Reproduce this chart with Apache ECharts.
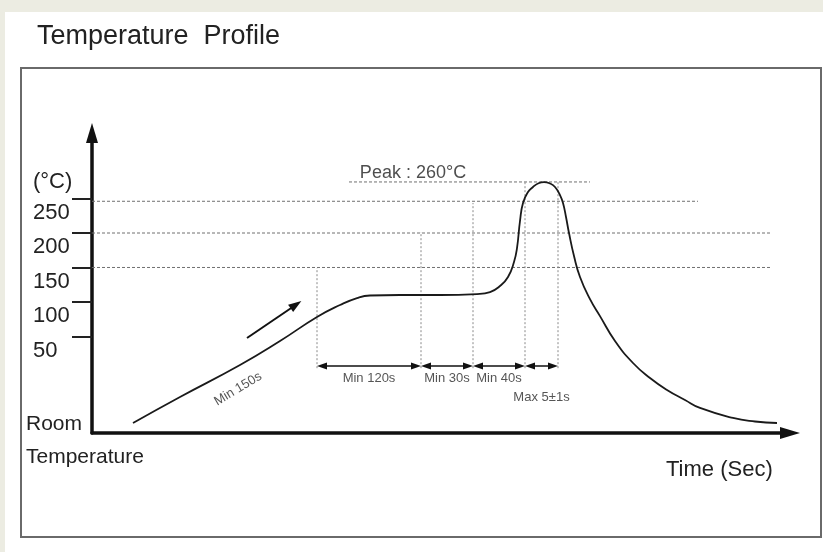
<!DOCTYPE html>
<html>
<head>
<meta charset="utf-8">
<script src="https://cdn.jsdelivr.net/npm/echarts@6/dist/echarts.min.js"></script>
<style>
html,body{margin:0;padding:0;background:#ecece2;}
#chart{width:823px;height:552px;}
</style>
</head>
<body>
<div id="chart"></div>
<script>
// ---------- data (schematic values) ----------
const titleText = 'Temperature  Profile';
const yUnitText = '(°C)';
const xNameText = 'Time (Sec)';
const roomText = ['Room', 'Temperature'];

const yTickValues = [50, 100, 150, 200, 250];
const yTickLabels = ['50', '100', '150', '200', '250'];

// reflow curve: time (schematic units) and temperature
const curveTime = [41, 88, 148, 188, 225, 248, 265, 278, 308, 348, 385, 398, 408, 416, 422, 425, 428, 431, 436, 441, 446, 452, 458, 463, 468, 471, 474, 477, 482, 488, 498, 508, 523, 541, 558, 575, 593, 608, 641, 663, 685];
const curveTemp = [-75.5, -37.8, 8.6, 43.4, 78.2, 95.6, 105.7, 109.4, 110.1, 110.1, 111.5, 114.4, 123.1, 136.2, 157.9, 178.2, 217.4, 243.5, 259.4, 266.7, 271.8, 273.9, 271.8, 266.7, 255.0, 243.5, 223.2, 200.0, 166.7, 136.2, 104.0, 79.5, 43.4, 11.5, -10.2, -27.6, -42.1, -53.7, -68.2, -73.3, -75.5];

// horizontal dashed reference lines
const refTemps = [246, 200, 150];
const refEnds = [606, 678, 678];
const peakTemp = 274;
const peakLineRange = [257, 498];
const peakLabel = 'Peak : 260°C';

// stage boundaries (vertical dashed lines) and their tops
const stageBounds = [225, 329, 381, 433, 466];
const stageTops = [149.2, 201.5, 243.5, 274, 274];
const arrowRowTemp = 7;
const stageLabels = ['Min 120s', 'Min 30s', 'Min 40s', 'Max 5±1s'];
const stageLabelTemps = [-10.2, -10.2, -10.2, -37.8];

// ramp annotation
const rampLabel = 'Min 150s';
const rampLabelPos = [146, -26.2];
const rampArrow = [[155, 47.7], [204, 96]];

// ---------- build ----------
const FONT = 'Liberation Sans, Arial, Helvetica, sans-serif';
const ARROW_LEN = 10;              // arrow head length (px == x units)
const chart = echarts.init(document.getElementById('chart'), null, {renderer: 'canvas'});

const series = [];
series.push({
  name: 'profile', type: 'line', smooth: 0.5, showSymbol: false, silent: true, z: 5,
  lineStyle: {color: '#1a1a1a', width: 1.8},
  data: curveTime.map((t, i) => [t, curveTemp[i]])
});
refTemps.forEach((v, i) => {
  series.push({
    type: 'line', showSymbol: false, silent: true, z: 3,
    lineStyle: {color: '#707070', width: 1, type: [3, 2]},
    data: [[0, v], [refEnds[i], v]]
  });
});
series.push({
  type: 'line', showSymbol: false, silent: true, z: 3,
  lineStyle: {color: '#707070', width: 1, type: [3, 2]},
  data: [[peakLineRange[0], peakTemp], [peakLineRange[1], peakTemp]]
});
stageBounds.forEach((t, i) => {
  series.push({
    type: 'line', showSymbol: false, silent: true, z: 3,
    lineStyle: {color: '#8a8a8a', width: 1, type: [2, 2]},
    data: [[t, arrowRowTemp - 3], [t, stageTops[i]]]
  });
});
// double-headed arrows between stage boundaries (head centred half a length inside)
const arrowData = [];
for (let i = 0; i < stageBounds.length - 1; i++) {
  arrowData.push([
    {coord: [stageBounds[i] + ARROW_LEN / 2, arrowRowTemp]},
    {coord: [stageBounds[i + 1] - ARROW_LEN / 2, arrowRowTemp]}
  ]);
}
series.push({
  type: 'line', data: [], silent: true, z: 4,
  markLine: {
    silent: true, animation: false,
    symbol: ['triangle', 'triangle'], symbolSize: [7, ARROW_LEN],
    lineStyle: {color: '#111', width: 1.5, type: 'solid'},
    label: {show: false},
    data: arrowData.concat([[
      {coord: rampArrow[0], symbol: 'none'},
      {coord: rampArrow[1], symbol: 'triangle', symbolSize: [9, 13], lineStyle: {width: 2}}
    ]])
  }
});
// text annotations
const textData = stageLabels.map((s, i) => ({
  name: s,
  value: [(stageBounds[i] + stageBounds[i + 1]) / 2, stageLabelTemps[i]]
}));
textData.push({name: rampLabel, value: rampLabelPos, label: {rotate: 31}});
textData.push({name: peakLabel, value: [321, 287], label: {fontSize: 18, color: '#222'}});
series.push({
  type: 'scatter', silent: true, z: 6, symbolSize: 0.1,
  itemStyle: {color: 'transparent'},
  label: {show: true, position: 'inside', formatter: '{b}', fontFamily: FONT, fontSize: 13, color: '#2a2a2a'},
  data: textData
});

const option = {
  animation: false,
  backgroundColor: '#ecece2',
  grid: {left: 92, right: 33, top: 133, bottom: 552 - 433},
  xAxis: {
    type: 'value', min: 0, max: 698,
    axisLine: {show: true, onZero: false, symbol: ['none', 'triangle'], symbolSize: [12, 20], lineStyle: {color: '#111', width: 3.5}},
    axisTick: {show: false}, axisLabel: {show: false}, splitLine: {show: false}
  },
  yAxis: {
    type: 'value', min: -90, max: 345,
    axisLine: {show: true, onZero: false, symbol: ['none', 'triangle'], symbolSize: [12, 20], lineStyle: {color: '#111', width: 3.5}},
    axisTick: {show: true, customValues: yTickValues, length: 20, lineStyle: {color: '#222', width: 2}},
    axisLabel: {
      show: true, customValues: yTickValues, align: 'left', margin: 59,
      formatter: v => '{a|' + yTickLabels[yTickValues.indexOf(v)] + '}',
      rich: {a: {fontFamily: FONT, fontSize: 22, color: '#222', padding: [28, 0, 0, 0]}}
    },
    splitLine: {show: false}
  },
  graphic: [
    {type: 'rect', z: -100, silent: true, shape: {x: 5, y: 12, width: 818, height: 540}, style: {fill: '#ffffff'}},
    {type: 'rect', z: 100, silent: true, shape: {x: 21, y: 68, width: 800, height: 469}, style: {fill: 'none', stroke: '#6a6a6a', lineWidth: 2}},
    {type: 'text', x: 37, y: 37, silent: true, style: {text: titleText, font: '27px ' + FONT, fill: '#222', verticalAlign: 'middle'}},
    {type: 'text', x: 33, y: 182, silent: true, style: {text: yUnitText, font: '22px ' + FONT, fill: '#222', verticalAlign: 'middle'}},
    {type: 'text', x: 26, y: 424, silent: true, style: {text: roomText[0], font: '21px ' + FONT, fill: '#222', verticalAlign: 'middle'}},
    {type: 'text', x: 26, y: 457, silent: true, style: {text: roomText[1], font: '21px ' + FONT, fill: '#222', verticalAlign: 'middle'}},
    {type: 'text', x: 666, y: 470, silent: true, style: {text: xNameText, font: '22px ' + FONT, fill: '#222', verticalAlign: 'middle'}}
  ],
  series: series
};
chart.setOption(option);
</script>
</body>
</html>
